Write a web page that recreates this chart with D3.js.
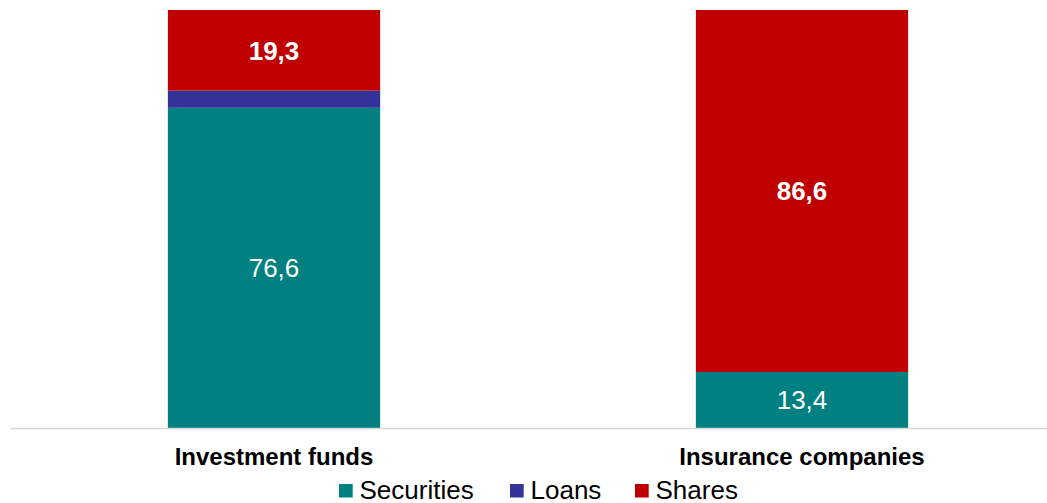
<!DOCTYPE html>
<html>
<head>
<meta charset="utf-8">
<script src="https://cdn.jsdelivr.net/npm/d3@7"></script>
<style>
  html, body { margin: 0; padding: 0; background: #ffffff; }
  svg { display: block; font-family: "Liberation Sans", Arial, sans-serif; }
</style>
</head>
<body>
<svg id="chart" width="1047" height="503"></svg>
<script>
// Portfolio structure by sector, % of total
const categories = ["Investment funds", "Insurance companies"];
const seriesNames = ["Securities", "Loans", "Shares"];
const securities = [76.6, 13.4];
const loans = [4.1, 0];
const shares = [19.3, 86.6];
const colors = ["#008080", "#333399", "#C00000"];
// which value labels are shown and whether they are bold
const labelShown = [[true, true], [false, false], [true, true]];
const labelBold = [[false, false], [false, false], [true, true]];

const svg = d3.select("#chart");

const x = d3.scaleBand()
  .domain(categories)
  .range([10, 1066])
  .paddingInner(0.598)
  .paddingOuter(0.299);

const y = d3.scaleLinear().domain([0, 100]).range([428, 10]);

const rows = categories.map((c, i) => ({
  cat: c, Securities: securities[i], Loans: loans[i], Shares: shares[i]
}));
const stacked = d3.stack().keys(seriesNames)(rows);

const g = svg.append("g");
stacked.forEach((layer, si) => {
  g.selectAll(null)
    .data(layer)
    .join("rect")
    .attr("x", d => x(d.data.cat))
    .attr("width", x.bandwidth())
    .attr("y", d => y(d[1]))
    .attr("height", d => y(d[0]) - y(d[1]))
    .attr("fill", colors[si]);
});

// value labels, centred in each segment
stacked.forEach((layer, si) => {
  layer.forEach((d, ci) => {
    if (!labelShown[si][ci]) return;
    const v = d[1] - d[0];
    g.append("text")
      .attr("x", x(d.data.cat) + x.bandwidth() / 2)
      .attr("y", (y(d[0]) + y(d[1])) / 2)
      .attr("dy", "0.36em")
      .attr("text-anchor", "middle")
      .attr("fill", "#ffffff")
      .attr("font-size", 26)
      .attr("font-weight", labelBold[si][ci] ? "bold" : "normal")
      .text(d3.format(".1f")(v).replace(".", ","));
  });
});

// category axis
const axis = svg.append("g").attr("transform", "translate(0,428.5)")
  .call(d3.axisBottom(x).tickSize(0));
axis.select(".domain").attr("d", "M10,0H1047").attr("stroke", "#d9d9d9").attr("stroke-width", 1.5);
axis.selectAll("text")
  .attr("y", 36.5)
  .attr("dy", null)
  .attr("font-family", "\"Liberation Sans\", Arial, sans-serif")
  .attr("font-size", 24)
  .attr("font-weight", "bold")
  .attr("fill", "#000000");

// legend
const legendItems = [
  { name: seriesNames[0], color: colors[0], x: 339 },
  { name: seriesNames[1], color: colors[1], x: 510 },
  { name: seriesNames[2], color: colors[2], x: 635 }
];
const legend = svg.append("g");
legendItems.forEach(it => {
  legend.append("rect")
    .attr("x", it.x).attr("y", 484)
    .attr("width", 13.7).attr("height", 13.5)
    .attr("fill", it.color);
  legend.append("text")
    .attr("x", it.x + 20.5).attr("y", 499)
    .attr("font-size", 26)
    .attr("fill", "#000000")
    .text(it.name);
});
</script>
</body>
</html>
